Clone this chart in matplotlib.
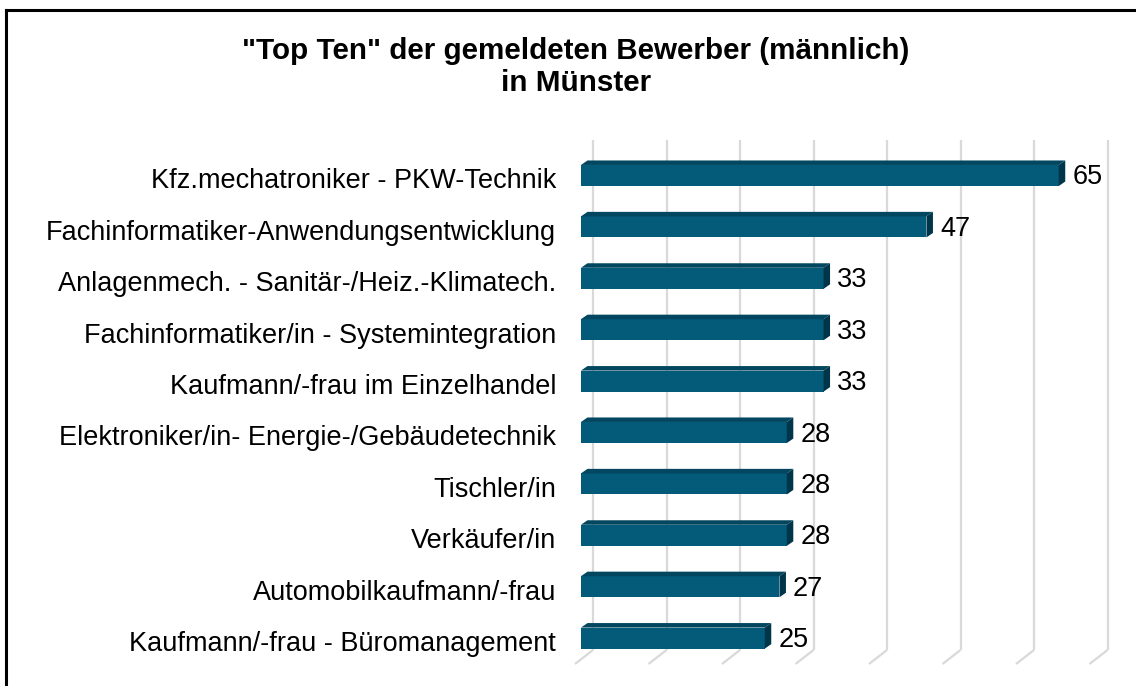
import matplotlib
matplotlib.use("Agg")
import matplotlib.pyplot as plt
from matplotlib.patches import Polygon
from matplotlib.lines import Line2D

categories = [
    "Kfz.mechatroniker - PKW-Technik",
    "Fachinformatiker-Anwendungsentwicklung",
    "Anlagenmech. - Sanitär-/Heiz.-Klimatech.",
    "Fachinformatiker/in - Systemintegration",
    "Kaufmann/-frau im Einzelhandel",
    "Elektroniker/in- Energie-/Gebäudetechnik",
    "Tischler/in",
    "Verkäufer/in",
    "Automobilkaufmann/-frau",
    "Kaufmann/-frau - Büromanagement",
]
values = [65, 47, 33, 33, 33, 28, 28, 28, 27, 25]
grid_ticks = [0, 10, 20, 30, 40, 50, 60, 70]
title = '"Top Ten" der gemeldeten Bewerber (männlich)\nin Münster'

plt.rcParams['font.family'] = ['Liberation Sans', 'DejaVu Sans']

W, H = 1136, 686
fig = plt.figure(figsize=(W / 100, H / 100), dpi=100)
fig.patch.set_facecolor("white")

# axes geometry (pixels)
x0_px, x70_px = 581.0, 1095.5
top_px, bot_px = 140.0, 655.0
ax = fig.add_axes([x0_px / W, (H - bot_px) / H, (x70_px - x0_px) / W, (bot_px - top_px) / H])
ax.set_xlim(0, 70)
row0_px, row_step = 175.5, 51.4
ax.set_ylim((bot_px - row0_px) / row_step, (top_px - row0_px) / row_step)
ax.axis("off")

ppx = (x70_px - x0_px) / 70.0  # pixels per x unit
ppy = row_step                  # pixels per y unit

def dx(p):
    return p / ppx

def dy(p):
    return p / ppy

# gridlines (back plane) with slanted floor segment
grid_col = "#d9d9d9"
y_gtop = ax.get_ylim()[1]
y_gbot = dy(650 - row0_px)
y_slant = dy(664 - row0_px)
for t in grid_ticks:
    xb = t + dx(12)
    ax.plot([xb, xb], [y_gtop, y_gbot], color=grid_col, lw=1.6, clip_on=False, zorder=1,
            solid_capstyle="butt")
    ax.plot([xb, xb - dx(18)], [y_gbot, y_slant], color=grid_col, lw=1.6, clip_on=False,
            zorder=1, solid_capstyle="butt")

front = "#035a79"
topc = "#02465f"
endc = "#01364a"
bh = 0.41
ddx, ddy = dx(6.5), dy(4.5)
ys = list(range(len(values)))
ax.barh(ys, values, height=bh, left=0, color=front, zorder=3, edgecolor="none")
for y, v in zip(ys, values):
    yt = y - bh / 2
    yb = y + bh / 2
    ax.add_patch(Polygon([(0, yt), (ddx, yt - ddy), (v + ddx, yt - ddy), (v, yt)],
                         closed=True, facecolor=topc, edgecolor="none", zorder=3))
    ax.add_patch(Polygon([(v, yt), (v + ddx, yt - ddy), (v + ddx, yb - ddy), (v, yb)],
                         closed=True, facecolor=endc, edgecolor="none", zorder=3))
    ax.annotate(str(v), xy=(v + ddx, y + dy(2)), xytext=(7, 0), textcoords="offset pixels",
                ha="left", va="center", fontsize=19.5, color="black", zorder=4)
    ax.annotate(categories[y], xy=(0, y + dy(6)), xytext=(-25, 0), textcoords="offset pixels",
                ha="right", va="center", fontsize=19.5, color="black", annotation_clip=False)

fig.text(576 / W, 1 - 67 / H, title, ha="center", va="center", fontsize=21.3,
         fontweight="bold", linespacing=1.2)

# frame lines (top and left)
fig.add_artist(Line2D([6 / W, 1], [1 - 10 / H, 1 - 10 / H], transform=fig.transFigure,
                      color="black", lw=2.2))
fig.add_artist(Line2D([6 / W, 6 / W], [0, 1 - 10 / H], transform=fig.transFigure,
                      color="black", lw=2.2))

fig.savefig("out.png", dpi=100, facecolor="white")
